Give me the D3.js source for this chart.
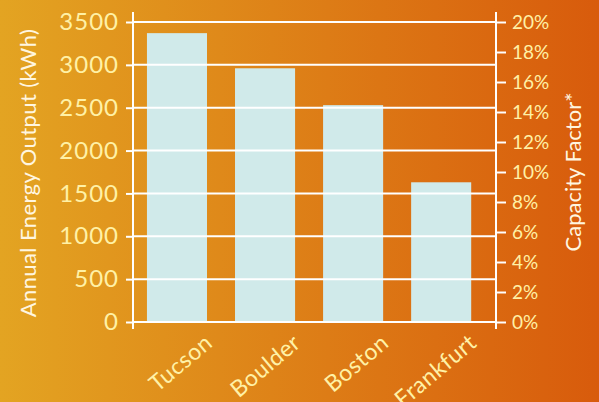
<!DOCTYPE html>
<html>
<head>
<meta charset="utf-8">
<script src="https://cdn.jsdelivr.net/npm/d3@7"></script>
<style>
  body { margin: 0; }
  #chart { width: 599px; height: 402px; }
  text { font-family: 'Lato', 'Open Sans', sans-serif; }
</style>
</head>
<body>
<div id="chart"></div>
<script>
// chart data
const cities = ['Tucson', 'Boulder', 'Boston', 'Frankfurt']
const energyOutput = [3370, 2960, 2530, 1630]
const energyTicks = [0, 500, 1000, 1500, 2000, 2500, 3000, 3500]
const capacityTicks = [0, 2, 4, 6, 8, 10, 12, 14, 16, 18, 20]

const W = 599, H = 402
const plot = { left: 133, right: 496, top: 22, bottom: 322 }

const svg = d3.select('#chart')
  .append('svg')
  .attr('width', W)
  .attr('height', H)

// background gradient
const grad = svg.append('defs').append('linearGradient')
  .attr('id', 'bg')
  .attr('x1', '0%').attr('x2', '100%')
  .attr('y1', '0%').attr('y2', '0%')
grad.append('stop').attr('offset', '0%').attr('stop-color', '#e3a422')
grad.append('stop').attr('offset', '100%').attr('stop-color', '#d85b0c')

svg.append('rect')
  .attr('width', W)
  .attr('height', H)
  .attr('fill', 'url(#bg)')

// scales
const x = d3.scaleBand()
  .domain(cities)
  .range([plot.left, plot.right])
  .paddingInner(0.318)
  .paddingOuter(0.22)
  .align(0.36)

const y = d3.scaleLinear()
  .domain([0, 3500])
  .range([plot.bottom, plot.top])

const y2 = d3.scaleLinear()
  .domain([0, 20])
  .range([plot.bottom, plot.top])

// bars
svg.selectAll('.bar')
  .data(cities)
  .enter()
  .append('rect')
  .attr('class', 'bar')
  .attr('x', d => x(d))
  .attr('width', x.bandwidth())
  .attr('y', (d, i) => y(energyOutput[i]))
  .attr('height', (d, i) => y(0) - y(energyOutput[i]))
  .attr('fill', '#d0eaea')

// gridlines (drawn on top of bars)
svg.append('g')
  .selectAll('line')
  .data(energyTicks)
  .enter()
  .append('line')
  .attr('x1', plot.left)
  .attr('x2', plot.right)
  .attr('y1', d => y(d))
  .attr('y2', d => y(d))
  .attr('stroke', '#fff')
  .attr('stroke-width', 2)

// left axis
const leftAxis = svg.append('g')
  .attr('transform', 'translate(' + plot.left + ',0)')
  .call(d3.axisLeft(y).tickValues(energyTicks).tickSize(7).tickPadding(7).tickSizeOuter(0)
    .tickFormat(d3.format('d')))
leftAxis.select('.domain').remove()
leftAxis.selectAll('.tick line').attr('stroke', '#fff').attr('stroke-width', 2)
leftAxis.selectAll('.tick text')
  .attr('fill', '#fff1a6')
  .style('font-size', '24px')
  .style('letter-spacing', '1px')

leftAxis.append('line')
  .attr('y1', plot.top - 10)
  .attr('y2', plot.bottom + 7)
  .attr('stroke', '#fff')
  .attr('stroke-width', 2)

// right axis
const rightAxis = svg.append('g')
  .attr('transform', 'translate(' + plot.right + ',0)')
  .call(d3.axisRight(y2).tickValues(capacityTicks).tickSize(10).tickPadding(6).tickSizeOuter(0)
    .tickFormat(d => d + '%'))
rightAxis.select('.domain').remove()
rightAxis.selectAll('.tick line').attr('stroke', '#fff').attr('stroke-width', 2)
rightAxis.selectAll('.tick text')
  .attr('fill', '#fff1a6')
  .style('font-size', '19px')

rightAxis.append('line')
  .attr('y1', plot.top - 10)
  .attr('y2', plot.bottom + 7)
  .attr('stroke', '#fff')
  .attr('stroke-width', 2)

// x labels, rotated
svg.append('g')
  .selectAll('text')
  .data(cities)
  .enter()
  .append('text')
  .attr('transform', d => 'translate(' + (x(d) + x.bandwidth() - 4) + ',' + (plot.bottom + 10) + ') rotate(-40)')
  .attr('text-anchor', 'end')
  .attr('dy', '0.75em')
  .attr('fill', '#fff1a6')
  .style('font-size', '23px')
  .style('letter-spacing', '0.5px')
  .text(d => d)

// axis titles
svg.append('text')
  .attr('transform', 'translate(28,' + 173 + ') rotate(-90)')
  .attr('text-anchor', 'middle')
  .attr('dy', '0.35em')
  .attr('fill', '#fff6e0')
  .style('font-size', '22px')
  .style('letter-spacing', '0.4px')
  .text('Annual Energy Output (kWh)')

svg.append('text')
  .attr('transform', 'translate(573,' + 172 + ') rotate(-90)')
  .attr('text-anchor', 'middle')
  .attr('dy', '0.35em')
  .attr('fill', '#fff6e0')
  .style('font-size', '22px')
  .text('Capacity Factor*')
</script>
</body>
</html>
